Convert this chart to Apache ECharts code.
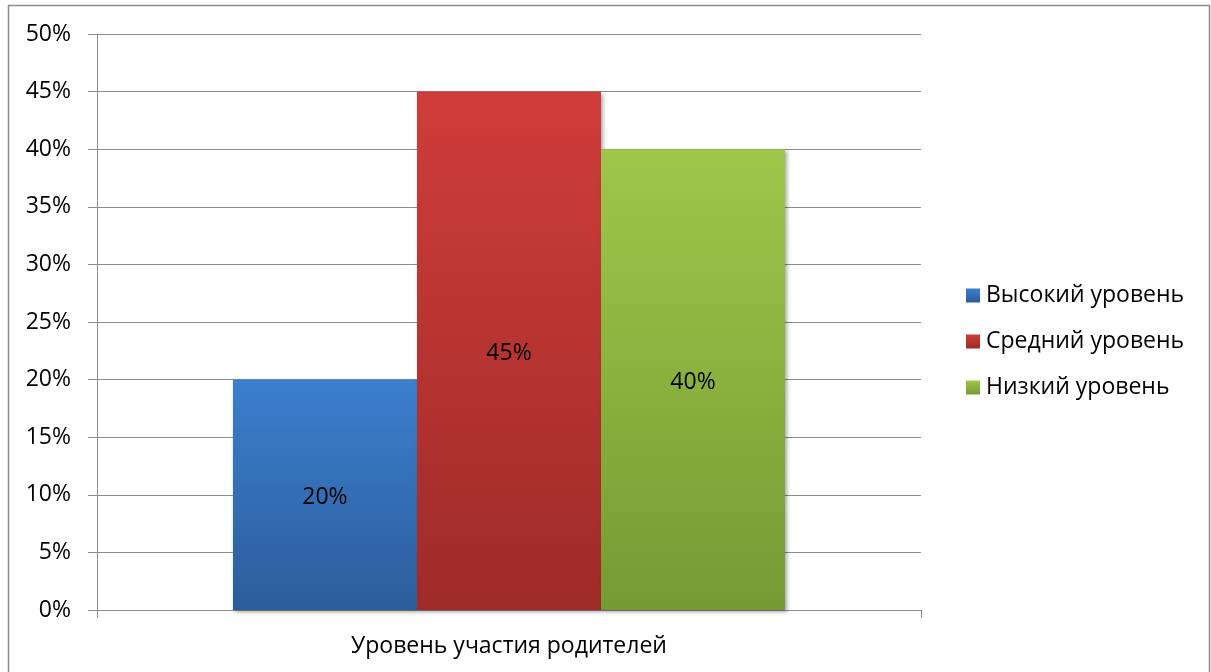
<!DOCTYPE html>
<html>
<head>
<meta charset="utf-8">
<script src="https://cdn.jsdelivr.net/npm/echarts@6/dist/echarts.min.js"></script>
<style>
  html, body { margin: 0; padding: 0; background: #fff; }
  #chart { width: 1211px; height: 672px; }
</style>
</head>
<body>
<div id="chart"></div>
<script>
// Участие родителей: доля по уровням
const categories = ['Уровень участия родителей'];
const seriesNames = ['Высокий уровень', 'Средний уровень', 'Низкий уровень'];
const highValues = [20];
const midValues = [45];
const lowValues = [40];
const yTicks = [0, 5, 10, 15, 20, 25, 30, 35, 40, 45, 50];

const fontFamily = '"Open Sans", "Noto Sans", sans-serif';
const fontSize = 23;

function grad(top, bottom) {
  return new echarts.graphic.LinearGradient(0, 0, 0, 1, [
    { offset: 0, color: top },
    { offset: 1, color: bottom }
  ]);
}

const palettes = [
  ['#3b7fce', '#2c5d9b'],
  ['#cf3d3a', '#9e2b29'],
  ['#9fc74a', '#769a33']
];
const valueSets = [highValues, midValues, lowValues];

const chart = echarts.init(document.getElementById('chart'));
chart.setOption({
  animation: false,
  graphic: [{
    type: 'rect',
    shape: { x: 8.5, y: 5.5, width: 1201, height: 680 },
    style: { fill: 'none', stroke: '#8a8a8a', lineWidth: 1.5 },
    silent: true
  }],
  grid: { left: 97, right: 290, top: 34, bottom: 62 },
  legend: {
    orient: 'vertical',
    left: 966,
    top: 284,
    padding: 0,
    itemWidth: 14,
    itemHeight: 14,
    itemGap: 23,
    icon: 'rect',
    textStyle: { fontFamily, fontSize, color: '#000', padding: [0, 0, 0, 1] },
    data: seriesNames
  },
  xAxis: {
    type: 'category',
    data: categories,
    axisLine: { show: true, lineStyle: { color: '#8c8c8c', width: 1 } },
    axisTick: { show: true, length: 8, lineStyle: { color: '#8c8c8c' } },
    axisLabel: { fontFamily, fontSize, color: '#000', margin: 25 }
  },
  yAxis: {
    type: 'value',
    min: 0,
    max: 50,
    interval: 5,
    axisLine: { show: true, lineStyle: { color: '#8c8c8c', width: 1 } },
    axisTick: { show: true, length: 9, lineStyle: { color: '#8c8c8c' } },
    splitLine: { show: true, lineStyle: { color: '#8c8c8c', width: 1 } },
    axisLabel: {
      fontFamily, fontSize, color: '#000', margin: 26,
      formatter: v => yTicks.includes(v) ? v + '%' : ''
    }
  },
  series: seriesNames.map((name, i) => ({
    name,
    type: 'bar',
    data: valueSets[i],
    barGap: '0%',
    barCategoryGap: '33%',
    itemStyle: {
      color: grad(palettes[i][0], palettes[i][1]),
      shadowColor: 'rgba(0,0,0,0.35)',
      shadowBlur: 4,
      shadowOffsetX: 2,
      shadowOffsetY: 2
    },
    label: {
      show: true,
      position: 'inside',
      offset: [0, 3],
      formatter: p => p.value + '%',
      fontFamily,
      fontSize,
      color: '#000'
    }
  }))
});
</script>
</body>
</html>
